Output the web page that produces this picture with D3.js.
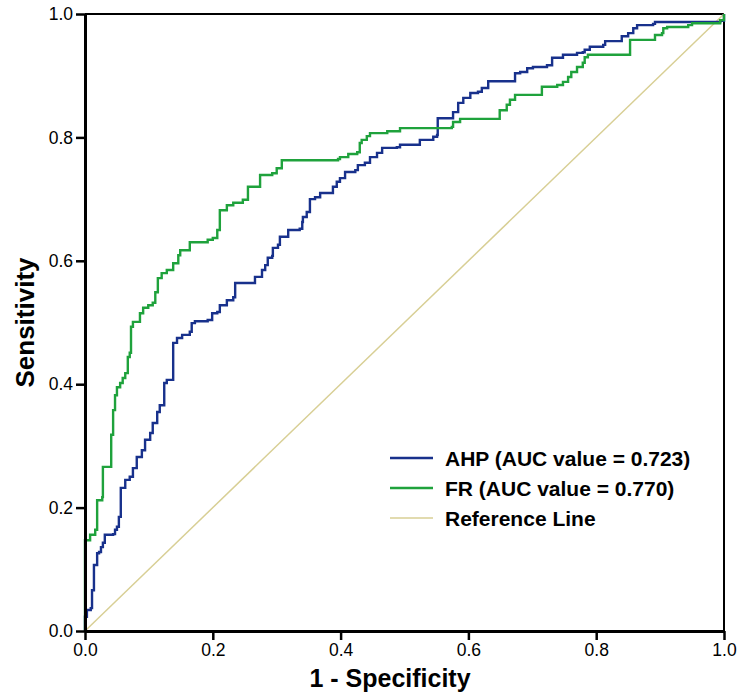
<!DOCTYPE html>
<html>
<head>
<meta charset="utf-8">
<script src="https://cdn.jsdelivr.net/npm/d3@7"></script>
<style>
  html, body { margin: 0; padding: 0; background: #fff; }
  svg { display: block; font-family: "Liberation Sans", Arial, sans-serif; }
</style>
</head>
<body>
<svg id="chart" width="738" height="692"></svg>
<script>
// ---- Data (false positive rate, true positive rate) ----
const ahpFpr = [0,0,0.003,0.009,0.011,0.014,0.019,0.022,0.025,0.028,0.031,0.044,0.047,0.050,0.053,0.056,0.063,0.070,0.075,0.081,0.089,0.094,0.102,0.106,0.113,0.117,0.124,0.128,0.138,0.144,0.152,0.164,0.167,0.172,0.192,0.199,0.207,0.211,0.222,0.232,0.235,0.266,0.277,0.282,0.286,0.293,0.294,0.302,0.305,0.318,0.336,0.340,0.341,0.347,0.352,0.360,0.368,0.388,0.394,0.399,0.407,0.423,0.427,0.438,0.446,0.457,0.465,0.488,0.493,0.524,0.545,0.551,0.552,0.576,0.584,0.592,0.603,0.615,0.621,0.631,0.673,0.681,0.692,0.701,0.723,0.731,0.748,0.770,0.779,0.782,0.790,0.811,0.814,0.840,0.850,0.858,0.864,0.889,0.892,0.994,1.0];
const ahpTpr = [0,0.023,0.034,0.037,0.066,0.107,0.126,0.128,0.136,0.143,0.156,0.157,0.164,0.169,0.185,0.232,0.245,0.250,0.264,0.282,0.293,0.310,0.321,0.337,0.355,0.366,0.402,0.407,0.467,0.475,0.480,0.485,0.499,0.502,0.504,0.515,0.517,0.528,0.536,0.541,0.564,0.574,0.585,0.593,0.605,0.608,0.621,0.626,0.639,0.650,0.652,0.663,0.671,0.679,0.700,0.703,0.710,0.720,0.728,0.734,0.744,0.747,0.755,0.759,0.768,0.775,0.783,0.784,0.788,0.796,0.801,0.804,0.831,0.841,0.856,0.864,0.872,0.874,0.880,0.891,0.904,0.906,0.912,0.914,0.917,0.929,0.934,0.937,0.938,0.942,0.947,0.950,0.956,0.964,0.969,0.977,0.982,0.984,0.987,0.989,1.0];

const frFpr = [0,0,0.008,0.016,0.019,0.027,0.028,0.039,0.041,0.044,0.047,0.050,0.055,0.059,0.063,0.067,0.070,0.072,0.075,0.086,0.091,0.099,0.106,0.110,0.114,0.120,0.128,0.138,0.146,0.149,0.164,0.192,0.200,0.207,0.211,0.222,0.232,0.247,0.255,0.274,0.293,0.300,0.308,0.396,0.399,0.412,0.426,0.430,0.433,0.441,0.446,0.473,0.493,0.574,0.576,0.587,0.649,0.660,0.665,0.673,0.715,0.739,0.748,0.756,0.761,0.770,0.779,0.782,0.787,0.853,0.892,0.903,0.905,0.911,0.944,0.950,0.994,1.0];
const frTpr = [0,0.147,0.156,0.164,0.212,0.217,0.266,0.266,0.318,0.358,0.382,0.395,0.402,0.410,0.418,0.444,0.451,0.493,0.501,0.515,0.524,0.528,0.532,0.549,0.572,0.580,0.585,0.596,0.609,0.617,0.630,0.634,0.637,0.650,0.682,0.690,0.694,0.699,0.720,0.739,0.742,0.750,0.763,0.765,0.768,0.773,0.776,0.791,0.796,0.802,0.807,0.810,0.815,0.817,0.825,0.830,0.844,0.853,0.861,0.869,0.882,0.885,0.890,0.898,0.906,0.914,0.921,0.930,0.934,0.958,0.966,0.969,0.977,0.979,0.982,0.985,0.990,1.0];

const refLine = [0, 1];
const tickValues = [0, 0.2, 0.4, 0.6, 0.8, 1.0];
const seriesNames = ["AHP (AUC value = 0.723)", "FR (AUC value = 0.770)", "Reference Line"];
const seriesColors = ["#18318c", "#1fa23c", "#d8cf95"];
const xTitle = "1 - Specificity";
const yTitle = "Sensitivity";

// ---- Layout ----
const svg = d3.select("#chart");
const L = 85, R = 724, T = 14, B = 631;
const x = d3.scaleLinear().domain([0, 1]).range([L, R]);
const y = d3.scaleLinear().domain([0, 1]).range([B, T]);

// Box (top & right)
svg.append("line").attr("x1", L).attr("x2", R).attr("y1", T).attr("y2", T)
  .attr("stroke", "#000").attr("stroke-width", 2);
svg.append("line").attr("x1", R).attr("x2", R).attr("y1", T).attr("y2", B)
  .attr("stroke", "#000").attr("stroke-width", 2);

// Reference line
svg.append("line")
  .attr("x1", x(refLine[0])).attr("y1", y(refLine[0]))
  .attr("x2", x(refLine[1])).attr("y2", y(refLine[1]))
  .attr("stroke", seriesColors[2]).attr("stroke-width", 1.5);

const line = d3.line().x(d => x(d[0])).y(d => y(d[1])).curve(d3.curveStepAfter);

svg.append("path").datum(d3.zip(ahpFpr, ahpTpr))
  .attr("d", line).attr("fill", "none")
  .attr("stroke", seriesColors[0]).attr("stroke-width", 2.4);
svg.append("path").datum(d3.zip(frFpr, frTpr))
  .attr("d", line).attr("fill", "none")
  .attr("stroke", seriesColors[1]).attr("stroke-width", 2.4);

// Axes
const fmt = d3.format(".1f");
const xAxis = svg.append("g").attr("transform", `translate(0,${B})`)
  .call(d3.axisBottom(x).tickValues(tickValues).tickFormat(fmt).tickSize(9).tickSizeOuter(0).tickPadding(4));
const yAxis = svg.append("g").attr("transform", `translate(${L},0)`)
  .call(d3.axisLeft(y).tickValues(tickValues).tickFormat(fmt).tickSize(9).tickSizeOuter(0).tickPadding(3));
[xAxis, yAxis].forEach(g => {
  g.select(".domain").attr("stroke", "#000").attr("stroke-width", 3);
  g.selectAll(".tick line").attr("stroke", "#000").attr("stroke-width", 2.5);
  g.selectAll(".tick text").attr("fill", "#000")
    .style("font-family", "'Liberation Sans', Arial, sans-serif").style("font-size", "17.5px");
});

// Axis titles
svg.append("text").attr("x", 390).attr("y", 687)
  .attr("text-anchor", "middle").attr("font-weight", "bold").attr("font-size", 25)
  .text(xTitle);
svg.append("text").attr("transform", `translate(34,${(T + B) / 2}) rotate(-90)`)
  .attr("text-anchor", "middle").attr("font-weight", "bold").attr("font-size", 26)
  .text(yTitle);

// Legend
const legY = [458, 488, 518];
const leg = svg.append("g");
seriesNames.forEach((name, i) => {
  leg.append("line").attr("x1", 390).attr("x2", 433).attr("y1", legY[i]).attr("y2", legY[i])
    .attr("stroke", seriesColors[i]).attr("stroke-width", i < 2 ? 2.5 : 1.5);
  leg.append("text").attr("x", 445).attr("y", legY[i]).attr("dy", "0.36em")
    .attr("font-weight", "bold").attr("font-size", 21).attr("fill", "#000")
    .text(name);
});
</script>
</body>
</html>
